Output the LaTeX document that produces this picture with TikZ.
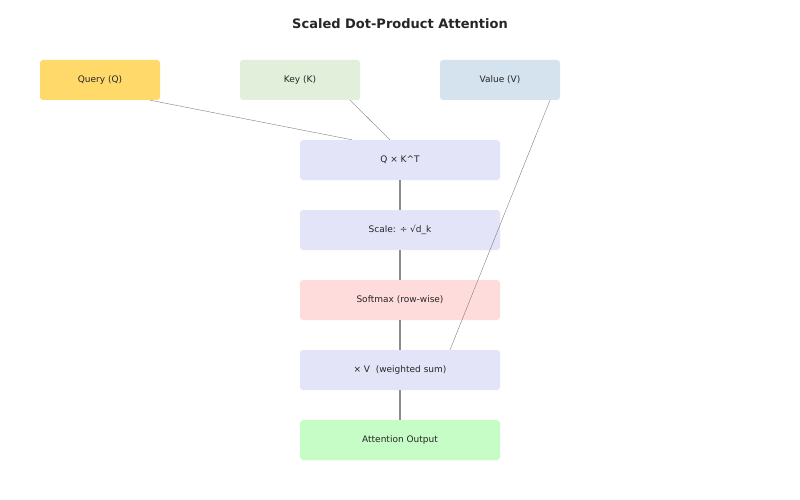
\documentclass[tikz,border=0pt]{standalone}
\usepackage{fontspec}
\setmainfont{DejaVu Sans}
\begin{document}
\begin{tikzpicture}[x=1pt,y=-1pt,
  box/.style={draw=none,rounded corners=3pt,minimum width=120pt,minimum height=40pt,inner sep=0pt,font=\fontsize{9}{10}\selectfont,text=black!85},
  wide/.style={box,minimum width=200pt},
  thin/.style={draw=black!50,line width=0.4pt},
  thick/.style={draw=black!45,line width=1.2pt}]
\useasboundingbox (0,0) rectangle (800,500);
\fill[white] (0,0) rectangle (800,500);
\node[font=\bfseries\fontsize{13}{15}\selectfont,text=black!85] (t) at (400,24) {Scaled Dot-Product Attention};
\definecolor{cq}{HTML}{FFDA6B}\definecolor{ck}{HTML}{E1EFDB}\definecolor{cv}{HTML}{D5E3EE}
\definecolor{cp}{HTML}{E4E4F8}\definecolor{cs}{HTML}{FFDCDC}\definecolor{co}{HTML}{C6FDC6}
\node[box,fill=cq] (q) at (100,80) {Query (Q)};
\node[box,fill=ck] (k) at (300,80) {Key (K)};
\node[box,fill=cv] (v) at (500,80) {Value (V)};
\node[wide,fill=cp] (qk) at (400,160) {Q × K\^{}T};
\node[wide,fill=cp] (sc) at (400,230) {Scale: ÷ √d\_k};
\node[wide,fill=cs] (sm) at (400,300) {Softmax (row-wise)};
\node[wide,fill=cp] (wv) at (400,370) {× V\ \ (weighted sum)};
\node[wide,fill=co] (out) at (400,440) {Attention Output};
\draw[thin] ([xshift=50pt]q.south) -- ([xshift=-48pt]qk.north);
\draw[thin] ([xshift=50pt]k.south) -- ([xshift=-10pt]qk.north);
\draw[thin] ([xshift=50pt]v.south) -- ([xshift=50pt]wv.north);
\draw[thick] (qk) -- (sc);
\draw[thick] (sc) -- (sm);
\draw[thick] (sm) -- (wv);
\draw[thick] (wv) -- (out);
\end{tikzpicture}
\end{document}
